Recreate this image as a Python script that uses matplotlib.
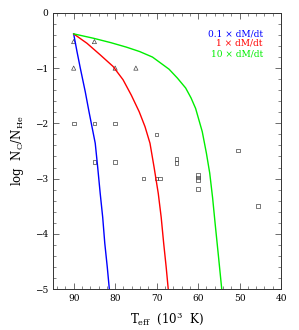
import matplotlib
matplotlib.use("Agg")
import matplotlib.pyplot as plt
from matplotlib.ticker import MultipleLocator

plt.rcParams['font.family'] = ['DejaVu Serif']
plt.rcParams['mathtext.fontset'] = 'dejavuserif'

# Observed stars
tri_T = [90, 85, 90, 80, 75]
tri_y = [-0.52, -0.52, -1.0, -1.0, -1.0]
sq_T = [90, 85, 80, 70, 85, 80, 73.2, 70, 69.2, 65.2, 65.2, 60, 60, 60, 60, 50.4, 45.5]
sq_y = [-2.0, -2.0, -2.0, -2.2, -2.7, -2.7, -3.0, -3.0, -3.0, -2.65, -2.72,
        -2.93, -2.98, -3.03, -3.19, -2.49, -3.49]

# Model tracks
blue_T = [90, 89.2, 88.4, 87.2, 86.3, 84.8, 84.2, 83.6, 83.0, 82.5, 81.9, 81.4]
blue_y = [-0.38, -0.70, -1.0, -1.43, -1.79, -2.36, -2.8, -3.27, -3.7, -4.17, -4.6, -5.0]
red_T = [90, 86.8, 83.6, 80.5, 78.1, 76.1, 74.2, 72.8, 71.6, 70.6, 69.6, 68.9, 68.3, 67.7, 67.2]
red_y = [-0.38, -0.55, -0.76, -0.97, -1.21, -1.49, -1.79, -2.06, -2.36, -2.8, -3.27,
         -3.7, -4.17, -4.6, -5.0]
green_T = [90, 85.2, 81, 77.3, 74.1, 71.0, 67.0, 65.0, 63.0, 61.7, 60.6, 59.0, 58.0,
           57.2, 56.5, 55.9, 55.1, 54.3]
green_y = [-0.38, -0.46, -0.54, -0.62, -0.70, -0.80, -1.02, -1.18, -1.36, -1.54, -1.73,
           -2.15, -2.54, -2.9, -3.35, -3.81, -4.4, -5.0]

labels = ["0.1 \u00d7 dM/dt", "1 \u00d7 dM/dt", "10 \u00d7 dM/dt"]
colors = ["#0000ff", "#ff0000", "#00ee00"]

fig = plt.figure(figsize=(2.99, 3.30), dpi=100)
ax = fig.add_axes([0.177, 0.124, 0.763, 0.837])

ax.plot(blue_T, blue_y, color=colors[0], lw=1.0)
ax.plot(red_T, red_y, color=colors[1], lw=1.0)
ax.plot(green_T, green_y, color=colors[2], lw=1.0)
ax.scatter(tri_T, tri_y, marker='^', s=9, facecolors='none', edgecolors='#444444', linewidths=0.5)
ax.scatter(sq_T, sq_y, marker='s', s=7, facecolors='none', edgecolors='#444444', linewidths=0.5)

ax.set_xlim(95, 40)
ax.set_ylim(-5, 0)
ax.xaxis.set_major_locator(MultipleLocator(10))
ax.xaxis.set_minor_locator(MultipleLocator(2))
ax.yaxis.set_major_locator(MultipleLocator(1))
ax.yaxis.set_minor_locator(MultipleLocator(0.2))
ax.tick_params(which='both', direction='in', top=True, right=True, labelsize=6.5, color='#555555')
ax.tick_params(which='major', length=4, width=0.6)
ax.tick_params(which='minor', length=2, width=0.5)
for s in ax.spines.values():
    s.set_linewidth(0.7)
    s.set_color('#333333')

ys = [0.925, 0.89, 0.852]
for lab, c, yy in zip(labels, colors, ys):
    ax.text(0.92, yy, lab, color=c, fontsize=6.5, ha='right', va='center', transform=ax.transAxes)

ax.set_xlabel(r'T$_{\rm eff}$  (10$^{3}$  K)', fontsize=8.5, labelpad=6)
ax.set_ylabel(r'log  N$_{\rm C}$/N$_{\rm He}$', fontsize=8.5, labelpad=6)

fig.savefig("out.png", dpi=100)
